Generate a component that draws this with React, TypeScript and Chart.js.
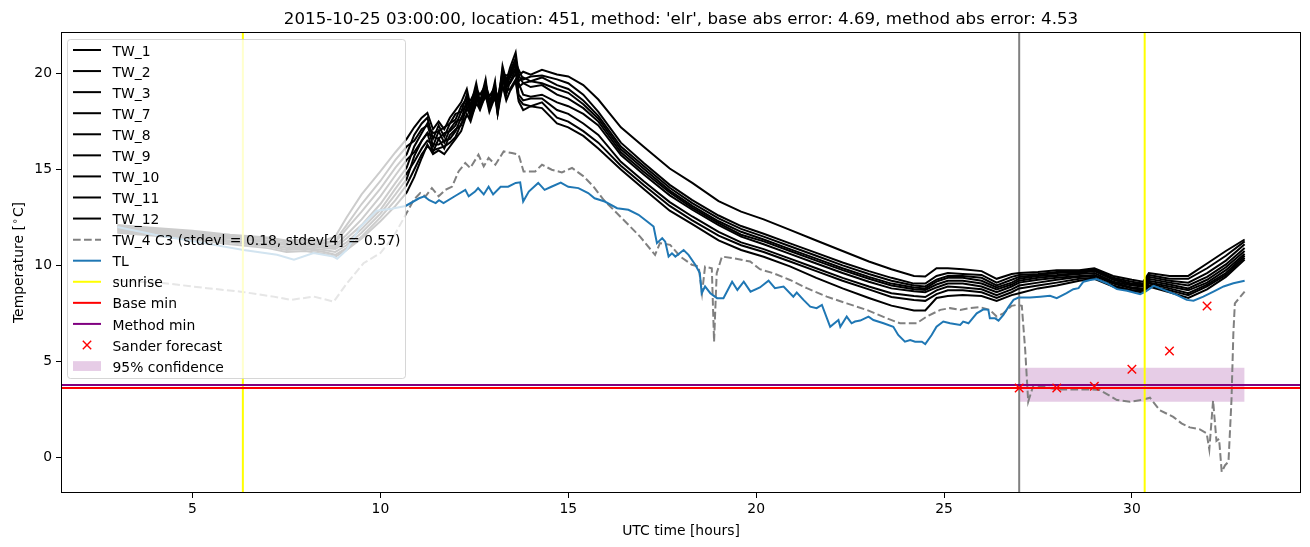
import React, { useEffect, useRef } from "react";
import { Chart, registerables } from "chart.js";

Chart.register(...registerables);

const TITLE = "2015-10-25 03:00:00, location: 451, method: 'elr', base abs error: 4.69, method abs error: 4.53";
const X_LABEL = "UTC time [hours]";
const X_TICKS = [5, 10, 15, 20, 25, 30];
const Y_TICKS = [0, 5, 10, 15, 20];
const X_MIN = 1.5;
const X_MAX = 34.5;
const Y_MIN = -1.87;
const Y_MAX = 22.17;

const TW_LABELS = ["TW_1", "TW_2", "TW_3", "TW_7", "TW_8", "TW_9", "TW_10", "TW_11", "TW_12"];
const TW_TIMES = [3, 4, 5, 6, 7, 7.5, 8, 8.5, 8.8, 9.1, 9.5, 10, 10.4, 10.7, 10.9, 11.1, 11.25, 11.4, 11.55, 11.7, 11.85, 12.0, 12.15, 12.3, 12.4, 12.55, 12.65, 12.8, 12.9, 13.05, 13.12, 13.25, 13.35, 13.45, 13.6, 13.68, 13.8, 14.0, 14.3, 14.7, 15.0, 15.4, 15.8, 16.4, 17.0, 17.7, 18.3, 19.0, 19.6, 20.2, 20.9, 21.6, 22.3, 23.0, 23.6, 24.2, 24.5, 24.8, 25.1, 25.5, 26.0, 26.4, 26.8, 27.0, 27.5, 28.0, 28.6, 29.0, 29.5, 30.0, 30.3, 30.45, 31.0, 31.5, 32.0, 32.5, 33.0];

const TW_1 = [12.1, 11.95, 11.8, 11.6, 11.45, 11.3, 11.35, 11.3, 11.5, 12.5,
  13.7, 14.9, 15.9, 16.6,
  17.2, 17.7, 17.95, 17.1, 17.5, 17.1,
  17.7, 18.1, 18.5, 19.2, 18.3, 19.5, 18.5, 19.7, 18.3, 19.6,
  18.2, 20.4, 19.6, 20.3, 21.1, 19.9, 20.1, 19.95, 20.2,
  19.95, 19.85, 19.4, 18.65, 17.2, 16.2, 15.05, 14.3, 13.35, 12.8, 12.4,
  11.85, 11.3, 10.75, 10.2, 9.8, 9.45, 9.42,
  9.85, 9.85, 9.8, 9.7, 9.3, 9.55, 9.6, 9.65, 9.75, 9.75, 9.85, 9.45, 9.25, 9.15, 9.6, 9.45, 9.45, 10.1, 10.75, 11.35];
const TW_2 = [12.05, 11.9, 11.75, 11.55, 11.4, 11.25, 11.3, 11.2, 11.3, 12.1, 13.2, 14.4, 15.5, 16.2,
  16.5, 17.1, 17.3, 16.9, 17.0, 17.2,
  17.4, 17.6, 18.3, 18.7, 18.6, 19.2, 18.9, 19.4, 18.8, 19.3,
  18.7, 20.0, 19.9, 20.0, 20.6, 20.2, 19.7, 19.85, 19.9,
  19.7, 19.5, 18.9, 18.0, 16.4, 15.35, 14.2, 13.4, 12.6, 12.05, 11.65,
  11.15, 10.65, 10.15, 9.7, 9.35, 9.05, 9.05,
  9.45, 9.6, 9.55, 9.5, 9.1, 9.4, 9.5, 9.55, 9.65, 9.7, 9.8, 9.35, 9.15, 9.05, 9.5, 9.3, 9.3, 9.85, 10.5, 11.25];
const TW_3 = [12.0, 11.85, 11.7, 11.5, 11.3, 11.15, 11.2, 11.15, 11.2, 11.9, 12.8, 14.0, 15.1, 15.8,
  16.8, 17.4, 17.7, 16.6, 17.3, 16.7,
  17.4, 17.9, 18.0, 18.9, 18.1, 19.3, 18.4, 19.55, 18.25, 19.45,
  18.1, 20.2, 19.4, 20.1, 20.8, 19.6, 19.8, 19.6, 19.8,
  19.4, 19.2, 18.6, 17.8, 16.2, 15.2, 14.05, 13.25, 12.45, 11.9, 11.5,
  11.0, 10.5, 10.0, 9.55, 9.2, 8.95, 8.9,
  9.25, 9.45, 9.45, 9.35, 8.95, 9.25, 9.4, 9.5, 9.6, 9.65, 9.75, 9.3, 9.05, 9.0, 9.4, 9.2, 9.1, 9.6, 10.25, 11.1];
const TW_7 = [11.95, 11.8, 11.65, 11.45, 11.25, 11.1, 11.15, 11.05, 11.05, 11.6, 12.4, 13.6, 14.7, 15.5,
  15.9, 16.5, 16.9, 16.7, 16.6, 16.9,
  17.0, 17.3, 18.0, 18.4, 18.3, 18.9, 18.6, 19.2, 18.6, 19.1,
  18.5, 19.8, 19.6, 19.8, 20.3, 19.9, 19.5, 19.6, 19.5,
  19.2, 19.0, 18.4, 17.65, 16.05, 15.05, 13.9, 13.1, 12.3, 11.75, 11.35,
  10.85, 10.35, 9.85, 9.4, 9.05, 8.85, 8.8,
  9.15, 9.35, 9.35, 9.2, 8.85, 9.1, 9.3, 9.45, 9.5, 9.6, 9.7, 9.25, 9.0, 8.95, 9.3, 9.1, 8.95, 9.4, 10.05, 10.9];
const TW_8 = [11.9, 11.75, 11.6, 11.4, 11.2, 11.05, 11.05, 11.0, 10.95, 11.4, 12.1, 13.2, 14.3, 15.1,
  16.2, 16.9, 17.4, 16.2, 17.0, 16.4,
  17.1, 17.5, 17.6, 18.6, 17.9, 19.1, 18.3, 19.35, 18.2, 19.3,
  18.0, 20.0, 19.2, 19.9, 20.5, 19.3, 19.5, 19.3, 19.4,
  18.9, 18.7, 18.2, 17.5, 15.9, 14.9, 13.8, 13.0, 12.2, 11.6, 11.25,
  10.75, 10.25, 9.75, 9.3, 8.95, 8.75, 8.72,
  9.0, 9.2, 9.2, 9.05, 8.75, 9.0, 9.2, 9.35, 9.45, 9.55, 9.6, 9.15, 8.95, 8.9, 9.2, 9.0, 8.8, 9.25, 9.9, 10.75];
const TW_9 = [11.85, 11.7, 11.5, 11.3, 11.1, 10.95, 11.0, 10.9, 10.85, 11.2, 11.9, 12.9, 14.0, 14.8,
  15.4, 16.1, 16.5, 16.3, 16.3, 16.5,
  16.6, 17.0, 17.7, 18.1, 18.0, 18.6, 18.5, 19.0, 18.4, 18.9,
  18.3, 19.6, 19.4, 19.5, 20.0, 19.5, 18.9, 18.8, 18.9,
  18.5, 18.3, 17.9, 17.3, 15.75, 14.75, 13.65, 12.9, 12.1, 11.5, 11.1,
  10.6, 10.1, 9.6, 9.15, 8.8, 8.65, 8.6,
  8.85, 9.05, 9.05, 8.9, 8.6, 8.9, 9.1, 9.25, 9.35, 9.45, 9.5, 9.1, 8.85, 8.8, 9.1, 8.9, 8.7, 9.1, 9.75, 10.6];
const TW_10 = [11.8, 11.65, 11.45, 11.25, 11.05, 10.9, 10.9, 10.8, 10.7, 11.05, 11.7, 12.7, 13.7, 14.5,
  15.7, 16.5, 16.9, 15.9, 16.6, 16.1,
  16.8, 17.1, 17.3, 18.3, 17.7, 18.8, 18.2, 19.15, 18.15, 19.1,
  17.95, 19.8, 18.9, 19.6, 20.2, 18.9, 18.6, 18.7, 18.7,
  18.1, 17.9, 17.4, 16.8, 15.4, 14.4, 13.3, 12.55, 11.75, 11.2, 10.85,
  10.35, 9.85, 9.35, 8.9, 8.55, 8.4, 8.35,
  8.7, 8.9, 8.85, 8.75, 8.45, 8.75, 8.95, 9.1, 9.25, 9.4, 9.45, 9.05, 8.8, 8.75, 9.05, 8.8, 8.55, 9.0, 9.6, 10.5];
const TW_11 = [11.75, 11.6, 11.4, 11.2, 11.0, 10.8, 10.85, 10.7, 10.55, 10.9, 11.5, 12.5, 13.4, 14.2,
  15.0, 15.8, 16.2, 16.0, 16.1, 16.2,
  16.4, 16.7, 17.4, 17.8, 17.7, 18.4, 18.3, 18.8, 18.3, 18.7,
  18.2, 19.3, 19.1, 19.2, 19.7, 18.7, 18.4, 18.3, 18.5,
  17.7, 17.5, 17.0, 16.4, 15.2, 14.2, 13.1, 12.35, 11.55, 11.05, 10.7,
  10.2, 9.7, 9.2, 8.75, 8.35, 8.2, 8.15,
  8.5, 8.7, 8.7, 8.6, 8.3, 8.6, 8.8, 8.95, 9.1, 9.3, 9.35, 8.95, 8.7, 8.7, 8.95, 8.7, 8.45, 8.9, 9.5, 10.4];
const TW_12 = [11.7, 11.55, 11.35, 11.1, 10.9, 10.7, 10.75, 10.6, 10.45, 10.8, 11.4, 12.3, 13.1, 13.8,
  14.6, 15.6, 16.3, 15.8, 16.0, 15.8,
  16.2, 16.6, 17.0, 17.9, 17.5, 18.5, 18.1, 18.9, 18.0, 18.8,
  17.9, 19.4, 18.6, 19.1, 19.6, 18.55, 18.1, 18.3, 18.2,
  17.4, 17.2, 16.75, 16.1, 15.0, 14.0, 12.85, 12.15, 11.3, 10.8, 10.45,
  9.95, 9.35, 8.8, 8.3, 7.9, 7.65, 7.65,
  8.3, 8.4, 8.45, 8.4, 8.15, 8.45, 8.55, 8.8, 8.95, 9.2, 9.3, 8.9, 8.65, 8.6, 8.9, 8.6, 8.3, 8.75, 9.4, 10.3];
const TW_SERIES = [TW_1, TW_2, TW_3, TW_7, TW_8, TW_9, TW_10, TW_11, TW_12];

const TW4_LABEL = "TW_4 C3 (stdevl = 0.18, stdev[4] = 0.57)";
const TW4_TIMES = [3.0, 4.26, 5.39, 6.28, 7.16, 7.61, 8.23, 8.76, 9.11, 9.55,
  10.0, 10.35, 10.69, 10.89, 11.06, 11.2, 11.37, 11.55, 11.73, 11.91,
  12.08, 12.26, 12.39, 12.61, 12.75, 12.88, 13.06, 13.28, 13.5, 13.68,
  13.81, 14.12, 14.3, 14.56, 14.83, 15.1, 15.41, 15.67, 15.94, 16.25,
  16.56, 16.91, 17.31, 17.44, 17.71, 17.98, 18.29, 18.47, 18.56, 18.64,
  18.82, 18.88, 18.95, 19.09, 19.4, 19.84, 20.1, 20.46, 20.9, 21.35,
  21.88, 22.41, 22.94, 23.48, 23.83, 24.27, 24.54, 24.9, 25.16, 25.43,
  25.69, 25.96, 26.22, 26.4, 26.58, 26.8, 26.94, 27.07, 27.16, 27.24,
  27.38, 27.64, 28.0, 28.44, 28.88, 29.15, 29.6, 29.95, 30.26, 30.48,
  30.74, 31.1, 31.32, 31.54, 31.81, 31.99, 32.06, 32.16, 32.25, 32.32,
  32.39, 32.48, 32.57, 32.65, 32.7, 32.74, 33.0];
const TW4_VALUES = [9.2, 9.07, 8.81, 8.63, 8.37, 8.2, 8.37, 8.11, 9.07, 10.11,
  10.64, 11.5, 12.7, 13.42, 13.77, 13.6, 14.03, 13.6, 13.94, 14.11,
  14.9, 15.34, 15.08, 15.77, 15.16, 15.6, 15.25, 15.94, 15.86, 15.77,
  14.9, 14.9, 15.25, 14.99, 14.85, 15.08, 14.64, 14.11, 13.42, 12.81,
  12.2, 11.5, 10.55, 11.16, 11.07, 10.46, 10.03, 9.94, 8.55, 9.94,
  9.85, 6.02, 9.59, 10.46, 10.37, 10.2, 9.8, 9.59, 9.24, 8.81,
  8.37, 8.02, 7.68, 7.24, 6.98, 6.98, 7.33, 7.68, 7.77, 7.68,
  7.77, 7.82, 7.68, 7.33, 7.5, 7.89, 7.94, 7.89, 5.59, 2.89,
  3.76, 3.67, 3.53, 3.53, 3.53, 3.5, 2.98, 2.89, 2.98, 3.1,
  2.45, 2.1, 1.76, 1.55, 1.45, 1.24, 0.4, 2.95, 0.85, 0.95,
  -0.77, -0.42, -0.24, 2.98, 6.46, 8.02, 8.63];

const TL_TIMES = [3, 4, 5.3, 6.36, 7.25, 7.7, 8.22, 8.75, 8.85, 9.1,
  9.46, 9.9, 10.3, 10.67, 11.03, 11.17, 11.3, 11.47, 11.56, 11.68,
  12.0, 12.26, 12.35, 12.52, 12.6, 12.75, 12.88, 13.0, 13.2, 13.4,
  13.6, 13.72, 13.8, 13.95, 14.2, 14.37, 14.55, 14.8, 15.0, 15.27,
  15.53, 15.7, 15.97, 16.3, 16.6, 16.87, 17.1, 17.27, 17.36, 17.5,
  17.58, 17.67, 17.76, 17.85, 18.07, 18.2, 18.38, 18.5, 18.55, 18.64,
  18.78, 18.96, 19.13, 19.36, 19.5, 19.67, 19.85, 20.1, 20.33, 20.5,
  20.73, 20.99, 21.08, 21.26, 21.44, 21.61, 21.75, 21.97, 22.19, 22.24,
  22.41, 22.54, 22.63, 22.77, 22.99, 23.12, 23.39, 23.65, 23.78, 23.96,
  24.1, 24.23, 24.41, 24.5, 24.67, 24.8, 24.98, 25.16, 25.43, 25.51,
  25.65, 25.87, 26.05, 26.18, 26.22, 26.36, 26.45, 26.58, 26.72, 26.85,
  26.98, 27.29, 27.56, 27.82, 28.0, 28.26, 28.44, 28.58, 28.71, 28.89,
  29.06, 29.33, 29.6, 29.87, 30.22, 30.36, 30.58, 30.85, 31.19, 31.46,
  31.64, 31.9, 32.17, 32.44, 32.7, 33.0];
const TL_VALUES = [12.0, 11.6, 11.16, 10.8, 10.55, 10.3, 10.64, 10.46, 10.35, 10.8,
  12.0, 12.85, 12.95, 13.1, 13.5, 13.6, 13.4, 13.25, 13.4, 13.25,
  13.63, 13.94, 13.6, 13.85, 14.03, 13.7, 14.1, 13.7, 14.1, 14.1,
  14.3, 14.33, 13.33, 13.85, 14.3, 13.94, 14.1, 14.32, 14.1, 14.03,
  13.77, 13.5, 13.33, 12.98, 12.9, 12.64, 12.29, 12.03, 11.16, 11.42,
  11.24, 10.46, 10.63, 10.46, 10.8, 10.55, 10.03, 9.6, 8.55, 8.9,
  8.55, 8.29, 8.29, 9.15, 8.72, 9.15, 8.63, 8.85, 9.2, 8.81,
  8.9, 8.37, 8.58, 8.2, 7.85, 7.77, 7.94, 6.8, 7.15, 6.8,
  7.33, 6.98, 7.07, 7.12, 7.33, 7.15, 6.98, 6.8, 6.37, 6.02,
  6.1, 6.02, 6.02, 5.9, 6.37, 6.8, 7.07, 6.98, 6.89, 7.07,
  6.98, 7.5, 7.71, 7.68, 7.24, 7.24, 7.12, 7.42, 7.85, 8.2,
  8.32, 8.32, 8.37, 8.41, 8.29, 8.55, 8.76, 8.81, 9.15, 9.24,
  9.29, 9.07, 8.76, 8.68, 8.5, 8.63, 8.93, 8.72, 8.46, 8.2,
  8.16, 8.37, 8.63, 8.9, 9.07, 9.2];

const SUNRISE_TIMES = [6.34, 30.34];
const FORECAST_TIME = 27;
const BASE_MIN = 3.6;
const METHOD_MIN = 3.76;
const SANDER_TIMES = [27, 28, 29, 30, 31, 32];
const SANDER_VALUES = [3.6, 3.6, 3.7, 4.58, 5.53, 7.88];
const CONF_TIMES = [27, 33];
const CONF_LOW = 2.89;
const CONF_HIGH = 4.66;

const C_TL = "#1f77b4";
const C_FILL = "rgba(128,0,128,0.2)";
const FONT_FAMILY = "DejaVu Sans";
const FS = 13.9;

const pts = (xs: number[], ys: number[]) => {
  const n = Math.min(xs.length, ys.length);
  const out: { x: number; y: number }[] = [];
  for (let i = 0; i < n; i++) out.push({ x: xs[i], y: ys[i] });
  return out;
};

const lineDs = (label: string, data: any[], color: string, order: number, extra: any = {}) => ({
  label,
  data,
  borderColor: color,
  backgroundColor: color,
  borderWidth: 2,
  pointRadius: 0,
  pointHoverRadius: 0,
  fill: false,
  tension: 0,
  order,
  ...extra,
});

const LEGEND_ITEMS = [
  ...TW_LABELS.map((l) => ({ label: l, kind: "line", color: "#000" })),
  { label: TW4_LABEL, kind: "dash", color: "gray" },
  { label: "TL", kind: "line", color: C_TL },
  { label: "sunrise", kind: "line", color: "yellow" },
  { label: "Base min", kind: "line", color: "red" },
  { label: "Method min", kind: "line", color: "purple" },
  { label: "Sander forecast", kind: "x", color: "red" },
  { label: "95% confidence", kind: "patch", color: C_FILL },
];

function roundRect(ctx: CanvasRenderingContext2D, x: number, y: number, w: number, h: number, r: number) {
  ctx.beginPath();
  ctx.moveTo(x + r, y);
  ctx.lineTo(x + w - r, y);
  ctx.quadraticCurveTo(x + w, y, x + w, y + r);
  ctx.lineTo(x + w, y + h - r);
  ctx.quadraticCurveTo(x + w, y + h, x + w - r, y + h);
  ctx.lineTo(x + r, y + h);
  ctx.quadraticCurveTo(x, y + h, x, y + h - r);
  ctx.lineTo(x, y + r);
  ctx.quadraticCurveTo(x, y, x + r, y);
  ctx.closePath();
}

const overlayPlugin = {
  id: "overlay",
  afterDatasetsDraw(chart: any) {
    const ctx: CanvasRenderingContext2D = chart.ctx;
    const a = chart.chartArea;
    ctx.save();
    ctx.strokeStyle = "#000";
    ctx.lineWidth = 1;
    ctx.setLineDash([]);
    ctx.strokeRect(Math.round(a.left) + 0.5, Math.round(a.top) + 0.5, Math.round(a.right - a.left) - 1, Math.round(a.bottom - a.top) - 1);

    const lx = a.left + 6.5;
    const ly = a.top + 7.5;
    const lw = 338;
    const lh = 339;
    roundRect(ctx, lx, ly, lw, lh, 3);
    ctx.fillStyle = "rgba(255,255,255,0.8)";
    ctx.fill();
    ctx.strokeStyle = "rgba(204,204,204,0.8)";
    ctx.lineWidth = 1;
    ctx.stroke();

    const hx0 = lx + 5.5;
    const hx1 = hx0 + 28;
    const tx = lx + 45;
    const row0 = a.top + 18;
    const rowH = 21.07;
    ctx.font = `${FS}px "${FONT_FAMILY}"`;
    ctx.textBaseline = "middle";
    ctx.textAlign = "left";
    LEGEND_ITEMS.forEach((it, i) => {
      const y = row0 + i * rowH;
      ctx.save();
      if (it.kind === "line" || it.kind === "dash") {
        ctx.strokeStyle = it.color;
        ctx.lineWidth = 2;
        ctx.setLineDash(it.kind === "dash" ? [7.7, 3.3] : []);
        ctx.beginPath();
        ctx.moveTo(hx0, y);
        ctx.lineTo(hx1, y);
        ctx.stroke();
      } else if (it.kind === "x") {
        const cx = (hx0 + hx1) / 2;
        const r = 4.2;
        ctx.strokeStyle = it.color;
        ctx.lineWidth = 1.4;
        ctx.beginPath();
        ctx.moveTo(cx - r, y - r);
        ctx.lineTo(cx + r, y + r);
        ctx.moveTo(cx - r, y + r);
        ctx.lineTo(cx + r, y - r);
        ctx.stroke();
      } else if (it.kind === "patch") {
        ctx.fillStyle = it.color;
        ctx.fillRect(hx0, y - 4.9, 28, 9.8);
      }
      ctx.restore();
      ctx.fillStyle = "#000";
      ctx.fillText(it.label, tx, y + 2);
    });
    ctx.restore();
  },
  afterDraw(chart: any) {
    const ctx: CanvasRenderingContext2D = chart.ctx;
    const a = chart.chartArea;
    const cx = (a.left + a.right) / 2;
    ctx.save();
    ctx.fillStyle = "#000";
    ctx.textAlign = "center";
    ctx.textBaseline = "alphabetic";
    ctx.font = `16.67px "${FONT_FAMILY}"`;
    ctx.fillText(TITLE, cx, a.top - 8.5);
    ctx.font = `${FS}px "${FONT_FAMILY}"`;
    ctx.fillText(X_LABEL, cx, a.bottom + 41.5);

    const p1 = "Temperature [";
    const p2 = "\u2218";
    const p3 = "C]";
    ctx.font = `${FS}px "${FONT_FAMILY}"`;
    const w1 = ctx.measureText(p1).width;
    const w3 = ctx.measureText(p3).width;
    ctx.font = `${FS * 0.7}px "${FONT_FAMILY}"`;
    const w2 = ctx.measureText(p2).width;
    const total = w1 + w2 + w3 + 2;
    ctx.translate(a.left - 43.5, (a.top + a.bottom) / 2);
    ctx.rotate(-Math.PI / 2);
    ctx.textAlign = "left";
    let x = -total / 2;
    ctx.font = `${FS}px "${FONT_FAMILY}"`;
    ctx.fillText(p1, x, 5);
    x += w1 + 1;
    ctx.font = `${FS * 0.7}px "${FONT_FAMILY}"`;
    ctx.fillText(p2, x, 0);
    x += w2 + 1;
    ctx.font = `${FS}px "${FONT_FAMILY}"`;
    ctx.fillText(p3, x, 5);
    ctx.restore();
  },
};

export default function App() {
  const ref = useRef<HTMLCanvasElement>(null);
  useEffect(() => {
    const canvas = ref.current;
    if (!canvas) return;

    const datasets: any[] = [];
    datasets.push(lineDs("95% confidence", pts(CONF_TIMES, [CONF_HIGH, CONF_HIGH]), "rgba(0,0,0,0)", 30, {
      fill: "+1",
      backgroundColor: C_FILL,
      borderWidth: 0,
    }));
    datasets.push(lineDs("conf low", pts(CONF_TIMES, [CONF_LOW, CONF_LOW]), "rgba(0,0,0,0)", 30, { borderWidth: 0 }));
    datasets.push(lineDs("forecast", pts([FORECAST_TIME, FORECAST_TIME], [Y_MIN, Y_MAX]), "gray", 25));
    TW_SERIES.forEach((s, i) => {
      datasets.push(lineDs(TW_LABELS[i], pts(TW_TIMES, s), "#000", 20));
    });
    datasets.push(lineDs(TW4_LABEL, pts(TW4_TIMES, TW4_VALUES), "gray", 15, { borderDash: [7.7, 3.3] }));
    datasets.push(lineDs("TL", pts(TL_TIMES, TL_VALUES), C_TL, 14));
    SUNRISE_TIMES.forEach((t) => {
      datasets.push(lineDs("sunrise", pts([t, t], [Y_MIN, Y_MAX]), "yellow", 13));
    });
    datasets.push(lineDs("Base min", pts([X_MIN, X_MAX], [BASE_MIN, BASE_MIN]), "red", 12));
    datasets.push(lineDs("Method min", pts([X_MIN, X_MAX], [METHOD_MIN, METHOD_MIN]), "purple", 11));
    datasets.push(lineDs("Sander forecast", pts(SANDER_TIMES, SANDER_VALUES), "red", 10, {
      showLine: false,
      pointStyle: "crossRot",
      pointRadius: 6,
      pointHoverRadius: 6,
      pointBorderColor: "red",
      pointBorderWidth: 1.4,
    }));

    const tickFont = { family: FONT_FAMILY, size: FS };
    const chart = new Chart(canvas, {
      type: "line",
      data: { datasets },
      options: {
        animation: false,
        responsive: false,
        devicePixelRatio: 1,
        events: [],
        layout: { padding: { top: 32, right: 9, left: 0, bottom: 0 } },
        plugins: {
          legend: { display: false },
          title: { display: false },
          tooltip: { enabled: false },
        },
        scales: {
          x: {
            type: "linear",
            min: X_MIN,
            max: X_MAX,
            afterBuildTicks: (s: any) => {
              s.ticks = X_TICKS.map((v) => ({ value: v }));
            },
            afterFit: (s: any) => {
              s.height = 54;
            },
            grid: { display: true, drawOnChartArea: false, drawTicks: true, tickLength: 5, color: "#000", lineWidth: 1 },
            border: { display: false },
            ticks: { color: "#000", font: tickFont, padding: 3, maxRotation: 0, autoSkip: false },
          },
          y: {
            type: "linear",
            min: Y_MIN,
            max: Y_MAX,
            afterBuildTicks: (s: any) => {
              s.ticks = Y_TICKS.map((v) => ({ value: v }));
            },
            afterFit: (s: any) => {
              s.width = 61;
            },
            grid: { display: true, drawOnChartArea: false, drawTicks: true, tickLength: 5, color: "#000", lineWidth: 1 },
            border: { display: false },
            ticks: { color: "#000", font: tickFont, padding: 4, autoSkip: false },
          },
        },
      } as any,
      plugins: [overlayPlugin as any],
    });
    return () => chart.destroy();
  }, []);

  return (
    <div style={{ position: "fixed", left: 0, top: 0, width: 1310, height: 547, background: "#fff" }}>
      <canvas ref={ref} width={1310} height={547} style={{ display: "block", width: 1310, height: 547 }} />
    </div>
  );
}
